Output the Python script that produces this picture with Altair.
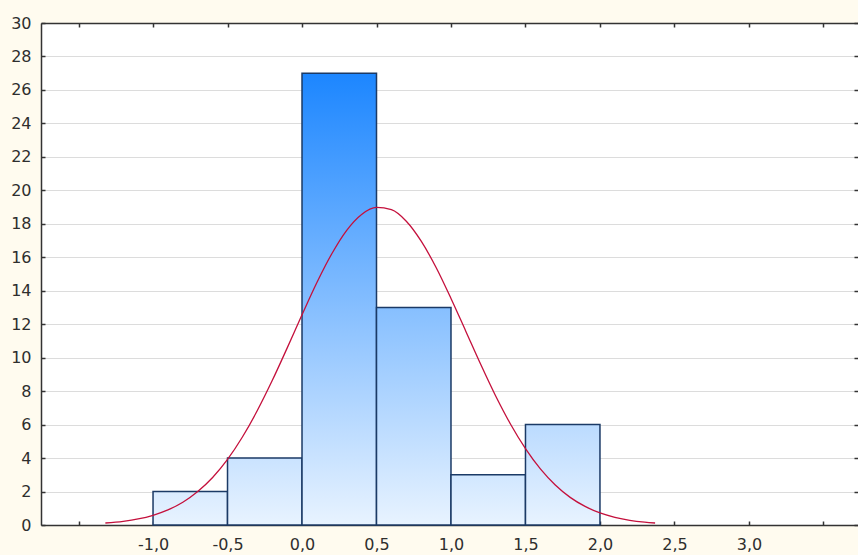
import altair as alt
import pandas as pd

# ---- data ----
bin_start = [-1.0, -0.5, 0.0, 0.5, 1.0, 1.5]
bin_end = [-0.5, 0.0, 0.5, 1.0, 1.5, 2.0]
counts = [2, 4, 27, 13, 3, 6]

curve_x = [-1.32, -1.2, -1.1, -1.0, -0.9, -0.8, -0.7, -0.6, -0.5, -0.4, -0.3, -0.2, -0.1,
           0.0, 0.1, 0.2, 0.3, 0.4, 0.5, 0.6, 0.7, 0.8, 0.9, 1.0, 1.1, 1.2, 1.3, 1.4,
           1.5, 1.6, 1.7, 1.8, 1.9, 2.0, 2.1, 2.2, 2.3, 2.37]
curve_y = [0.12, 0.22, 0.36, 0.58, 0.90, 1.36, 2.00, 2.84, 3.92, 5.26, 6.84, 8.63, 10.57,
           12.56, 14.49, 16.21, 17.61, 18.56, 18.98, 18.84, 18.15, 16.96, 15.39, 13.54, 11.57,
           9.59, 7.71, 6.02, 4.56, 3.35, 2.39, 1.65, 1.11, 0.72, 0.46, 0.28, 0.17, 0.12]

x_ticks = [-1.5, -1.0, -0.5, 0.0, 0.5, 1.0, 1.5, 2.0, 2.5, 3.0, 3.5]
y_ticks = list(range(0, 31, 2))

# ---- layout ----
W, H = 817, 502
xs = alt.Scale(domain=[-1.752, 3.732], nice=False, zero=False)
ys = alt.Scale(domain=[0, 30], nice=False)

DARK = "#333333"
FONT = "DejaVu Sans"
LABEL = "#2e2e2e"

label_expr = ("(datum.value < -1.2 || datum.value > 3.2) ? '' : "
              "replace((datum.value < 0 ? '-' : '') + format(abs(datum.value), '.1f'), '.', ',')")

axis_x_main = alt.Axis(values=x_ticks, labelExpr=label_expr, ticks=False, grid=False,
                       domain=True, domainColor=DARK, domainWidth=1.5, labelFont=FONT,
                       labelFontSize=16, labelColor=LABEL, labelPadding=11,
                       labelFlush=False, title=None, orient="bottom")
axis_y_main = alt.Axis(values=y_ticks, format="d", ticks=False, grid=True,
                       gridColor="#dcdcdc", gridWidth=1, domain=True, domainColor=DARK,
                       domainWidth=1.5, labelFont=FONT, labelFontSize=16,
                       labelColor=LABEL, labelPadding=10, labelFlush=False,
                       title=None, orient="left")
# inward ticks: bottom edge (top-oriented axis shifted down) and left edge
axis_x_in_bottom = alt.Axis(values=x_ticks, labels=False, ticks=True, tickSize=4,
                            tickWidth=1.5, tickColor=DARK, domain=False, grid=False,
                            title=None, orient="top", offset=-H)
axis_y_in_left = alt.Axis(values=y_ticks, labels=False, ticks=True, tickSize=4,
                          tickWidth=1.5, tickColor=DARK, domain=False, grid=False,
                          title=None, orient="right", offset=-W)
# inward ticks: top edge (with border) and right edge
axis_x_in_top = alt.Axis(values=x_ticks, labels=False, ticks=True, tickSize=4,
                         tickWidth=1.5, tickColor=DARK, domain=True, domainColor=DARK,
                         domainWidth=1.5, grid=False, title=None, orient="bottom",
                         offset=-H)
axis_y_in_right = alt.Axis(values=y_ticks, labels=False, ticks=True, tickSize=4,
                           tickWidth=1.5, tickColor=DARK, domain=False, grid=False,
                           title=None, orient="left", offset=-W)

axes_sets = [(axis_x_main, axis_y_main), (axis_x_in_bottom, axis_y_in_left),
             (axis_x_in_top, axis_y_in_right)]

LOW = (232, 243, 255)
HIGH = (28, 134, 255)
MAXC = 27.0


def mix(c):
    t = c / MAXC
    r, g, b = (round(LOW[k] + (HIGH[k] - LOW[k]) * t) for k in range(3))
    return f"#{r:02x}{g:02x}{b:02x}"


layers = []
for i, (a, b, c) in enumerate(zip(bin_start, bin_end, counts)):
    df = pd.DataFrame({"x0": [a], "x1": [b], "count": [c]})
    grad = {"gradient": "linear", "x1": 0, "y1": 1, "x2": 0, "y2": 0,
            "stops": [{"offset": 0, "color": "#" + "".join(f"{v:02x}" for v in LOW)},
                      {"offset": 1, "color": mix(c)}]}
    if i < len(axes_sets):
        ax, ay = axes_sets[i]
    else:
        ax, ay = None, None
    layers.append(
        alt.Chart(df).mark_rect(fill=grad, stroke="#1b3a66", strokeWidth=1.5)
        .encode(x=alt.X("x0:Q", scale=xs, axis=ax),
                x2="x1:Q",
                y=alt.Y("count:Q", scale=ys, axis=ay),
                y2=alt.datum(0))
    )

curve_df = pd.DataFrame({"x": curve_x, "y": curve_y})
curve = alt.Chart(curve_df).mark_line(color="#c4103c", strokeWidth=1.3,
                                      interpolate="monotone").encode(
    x=alt.X("x:Q", scale=xs, axis=None),
    y=alt.Y("y:Q", scale=ys, axis=None),
)
layers.append(curve)

chart = alt.layer(*layers).resolve_axis(x="independent", y="independent").properties(
    width=W, height=H,
    autosize=alt.AutoSizeParams(type="none"),
    padding={"left": 41, "top": 23, "right": 0, "bottom": 30},
    background="#fffbef",
).configure_view(fill="white", stroke=None)

chart.save("out.html", embed_options={"renderer": "svg", "actions": False})
